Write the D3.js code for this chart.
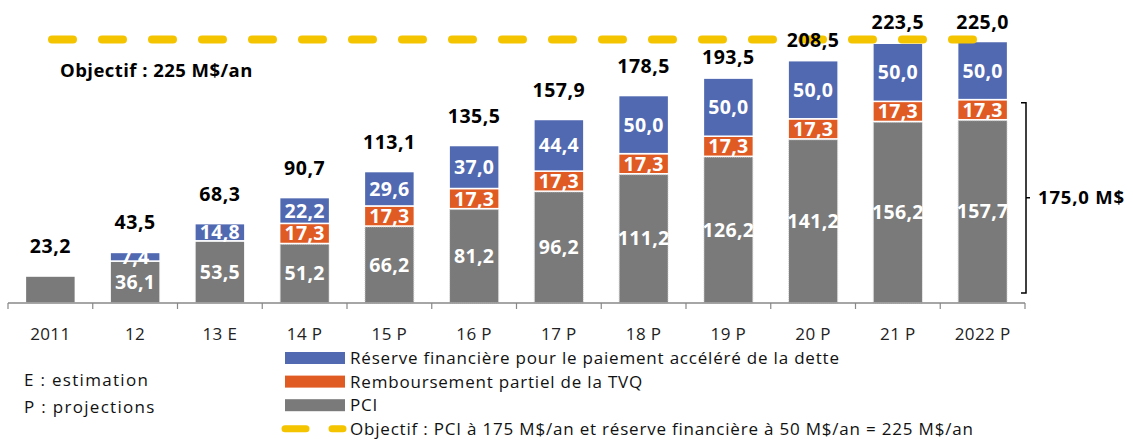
<!DOCTYPE html>
<html>
<head>
<meta charset="utf-8">
<script src="https://cdn.jsdelivr.net/npm/d3@7"></script>
<style>
  body { margin: 0; background: #fff; }
  svg { display: block; font-family: "Open Sans", sans-serif; }
</style>
</head>
<body>
<div id="chart"></div>
<script>
// data
const categories = ["2011", "12", "13 E", "14 P", "15 P", "16 P", "17 P", "18 P", "19 P", "20 P", "21 P", "2022 P"];
const pci = [23.2, 36.1, 53.5, 51.2, 66.2, 81.2, 96.2, 111.2, 126.2, 141.2, 156.2, 157.7];
const tvq = [0, 0, 0, 17.3, 17.3, 17.3, 17.3, 17.3, 17.3, 17.3, 17.3, 17.3];
const reserve = [0, 7.4, 14.8, 22.2, 29.6, 37.0, 44.4, 50.0, 50.0, 50.0, 50.0, 50.0];
const totals = [23.2, 43.5, 68.3, 90.7, 113.1, 135.5, 157.9, 178.5, 193.5, 208.5, 223.5, 225.0];
const objective = 225;
const bracketValue = "175,0 M$";
const legendLabels = [
  "Réserve financière pour le paiement accéléré de la dette",
  "Remboursement partiel de la TVQ",
  "PCI",
  "Objectif : PCI à 175 M$/an et réserve financière à 50 M$/an = 225 M$/an"
];
const notes = ["E : estimation", "P : projections"];

const colors = { pci: "#7a7a7a", tvq: "#e05a24", reserve: "#5169b1", goal: "#f5c400" };

const width = 1133, height = 440;
const svg = d3.select("#chart").append("svg")
  .attr("width", width).attr("height", height);

const x = d3.scaleBand().domain(categories).range([8, 1025]).paddingInner(0.41).paddingOuter(0.205);
const y = d3.scaleLinear().domain([0, 225]).range([303, 41.5]);

const fmt = v => d3.format(".1f")(v).replace(".", ",");

const rows = categories.map((c, i) => ({ cat: c, pci: pci[i], tvq: tvq[i], reserve: reserve[i], total: totals[i], i }));
const keys = ["pci", "tvq", "reserve"];
const stacked = d3.stack().keys(keys)(rows);

// bars
const layers = svg.append("g").selectAll("g")
  .data(stacked)
  .join("g")
    .attr("fill", d => colors[d.key]);

layers.selectAll("rect")
  .data(d => d.filter(s => s[1] - s[0] > 0).map(s => ({ s, key: d.key })))
  .join("rect")
    .attr("x", d => x(d.s.data.cat))
    .attr("y", d => y(d.s[1]))
    .attr("width", x.bandwidth())
    .attr("height", d => y(d.s[0]) - y(d.s[1]))
    .attr("stroke", "#fff")
    .attr("stroke-width", 1.5);

// dotted outline on projected PCI bars
svg.append("g").selectAll("rect")
  .data(rows.filter(r => r.i >= 3))
  .join("rect")
    .attr("x", d => x(d.cat) + 0.5)
    .attr("y", d => y(d.pci) + 1)
    .attr("width", x.bandwidth() - 1)
    .attr("height", d => y(0) - y(d.pci) - 1)
    .attr("fill", "none")
    .attr("stroke", "#c8c8c8")
    .attr("stroke-width", 0.8)
    .attr("stroke-dasharray", "1,1");

// segment labels
const segLabels = [];
rows.forEach(r => {
  let base = 0;
  keys.forEach(k => {
    if (r[k] > 0 && r.i > 0) segLabels.push({ cat: r.cat, v: r[k], mid: base + r[k] / 2 });
    base += r[k];
  });
});
svg.append("g").selectAll("text")
  .data(segLabels)
  .join("text")
    .attr("x", d => x(d.cat) + x.bandwidth() / 2)
    .attr("y", d => y(d.mid))
    .attr("dy", "0.36em")
    .attr("text-anchor", "middle")
    .attr("fill", "#fff")
    .attr("font-weight", "bold")
    .attr("font-size", 19.5)
    .attr("letter-spacing", 0.3)
    .text(d => fmt(d.v));

// axis
const axis = svg.append("g").attr("transform", `translate(0,${y(0)})`);
axis.append("line").attr("x1", 8).attr("x2", 1025).attr("stroke", "#888").attr("stroke-width", 1.5);
axis.selectAll("line.tick")
  .data(d3.range(categories.length + 1))
  .join("line")
    .attr("class", "tick")
    .attr("x1", i => 8 + i * x.step()).attr("x2", i => 8 + i * x.step())
    .attr("y1", 0).attr("y2", 6)
    .attr("stroke", "#888").attr("stroke-width", 1.2);
axis.selectAll("text")
  .data(categories)
  .join("text")
    .attr("x", d => x(d) + x.bandwidth() / 2)
    .attr("y", 37)
    .attr("text-anchor", "middle")
    .attr("font-size", 17)
    .attr("letter-spacing", 0.4)
    .attr("fill", "#222")
    .text(d => d);

// objective line
svg.append("line")
  .attr("x1", 52).attr("x2", 980)
  .attr("y1", y(objective) - 2).attr("y2", y(objective) - 2)
  .attr("stroke", colors.goal)
  .attr("stroke-width", 8)
  .attr("stroke-linecap", "round")
  .attr("stroke-dasharray", "21,29");

// totals: sit ~30px above the bar, squeezed near the objective line
const totalY = d => {
  const top = y(d.total);
  return top - 30 >= 50 ? top - 30 : Math.max(22, top - 21);
};
svg.append("g").selectAll("text")
  .data(rows)
  .join("text")
    .attr("x", d => x(d.cat) + x.bandwidth() / 2)
    .attr("y", totalY)
    .attr("dy", "0.36em")
    .attr("text-anchor", "middle")
    .attr("font-weight", "bold")
    .attr("font-size", 19.5)
    .attr("letter-spacing", 0.5)
    .attr("fill", "#000")
    .text(d => fmt(d.total));

svg.append("text")
  .attr("x", 60).attr("y", 70).attr("dy", "0.36em")
  .attr("font-weight", "bold").attr("font-size", 18.5)
  .attr("letter-spacing", 0.45)
  .text("Objectif : " + objective + " M$/an");

// bracket
const bx = 1026, bTop = y(172.4), bBot = y(8.6), bMid = (bTop + bBot) / 2;
svg.append("path")
  .attr("d", `M${bx - 5},${bTop}H${bx}V${bBot}H${bx - 5}M${bx},${bMid}H${bx + 4}`)
  .attr("fill", "none").attr("stroke", "#000").attr("stroke-width", 1.5);
svg.append("text")
  .attr("x", 1038).attr("y", bMid).attr("dy", "0.36em")
  .attr("font-weight", "bold").attr("font-size", 18.5)
  .attr("letter-spacing", 0.8)
  .text(bracketValue);

// legend
const legend = svg.append("g").attr("transform", "translate(285,358)");
const legendItems = legendLabels.map((l, i) => ({ label: l, color: [colors.reserve, colors.tvq, colors.pci, colors.goal][i], i }));
const li = legend.selectAll("g").data(legendItems).join("g")
  .attr("transform", d => `translate(0,${d.i * 23.6})`);
li.filter(d => d.i < 3).append("rect")
  .attr("x", 0).attr("y", -6).attr("width", 60).attr("height", 12)
  .attr("fill", d => d.color);
li.filter(d => d.i === 3).append("line")
  .attr("x1", 0).attr("x2", 58).attr("y1", 0).attr("y2", 0)
  .attr("stroke", colors.goal).attr("stroke-width", 7)
  .attr("stroke-linecap", "round").attr("stroke-dasharray", "21,26");
li.append("text")
  .attr("x", 65).attr("dy", "0.36em")
  .attr("font-size", 17).attr("letter-spacing", 0.8).attr("fill", "#111")
  .text(d => d.label);

// notes
svg.append("g").selectAll("text")
  .data(notes)
  .join("text")
    .attr("x", 24)
    .attr("y", (d, i) => 380 + i * 27)
    .attr("dy", "0.36em")
    .attr("font-size", 17).attr("letter-spacing", 1.3).attr("fill", "#111")
    .text(d => d);
</script>
</body>
</html>
